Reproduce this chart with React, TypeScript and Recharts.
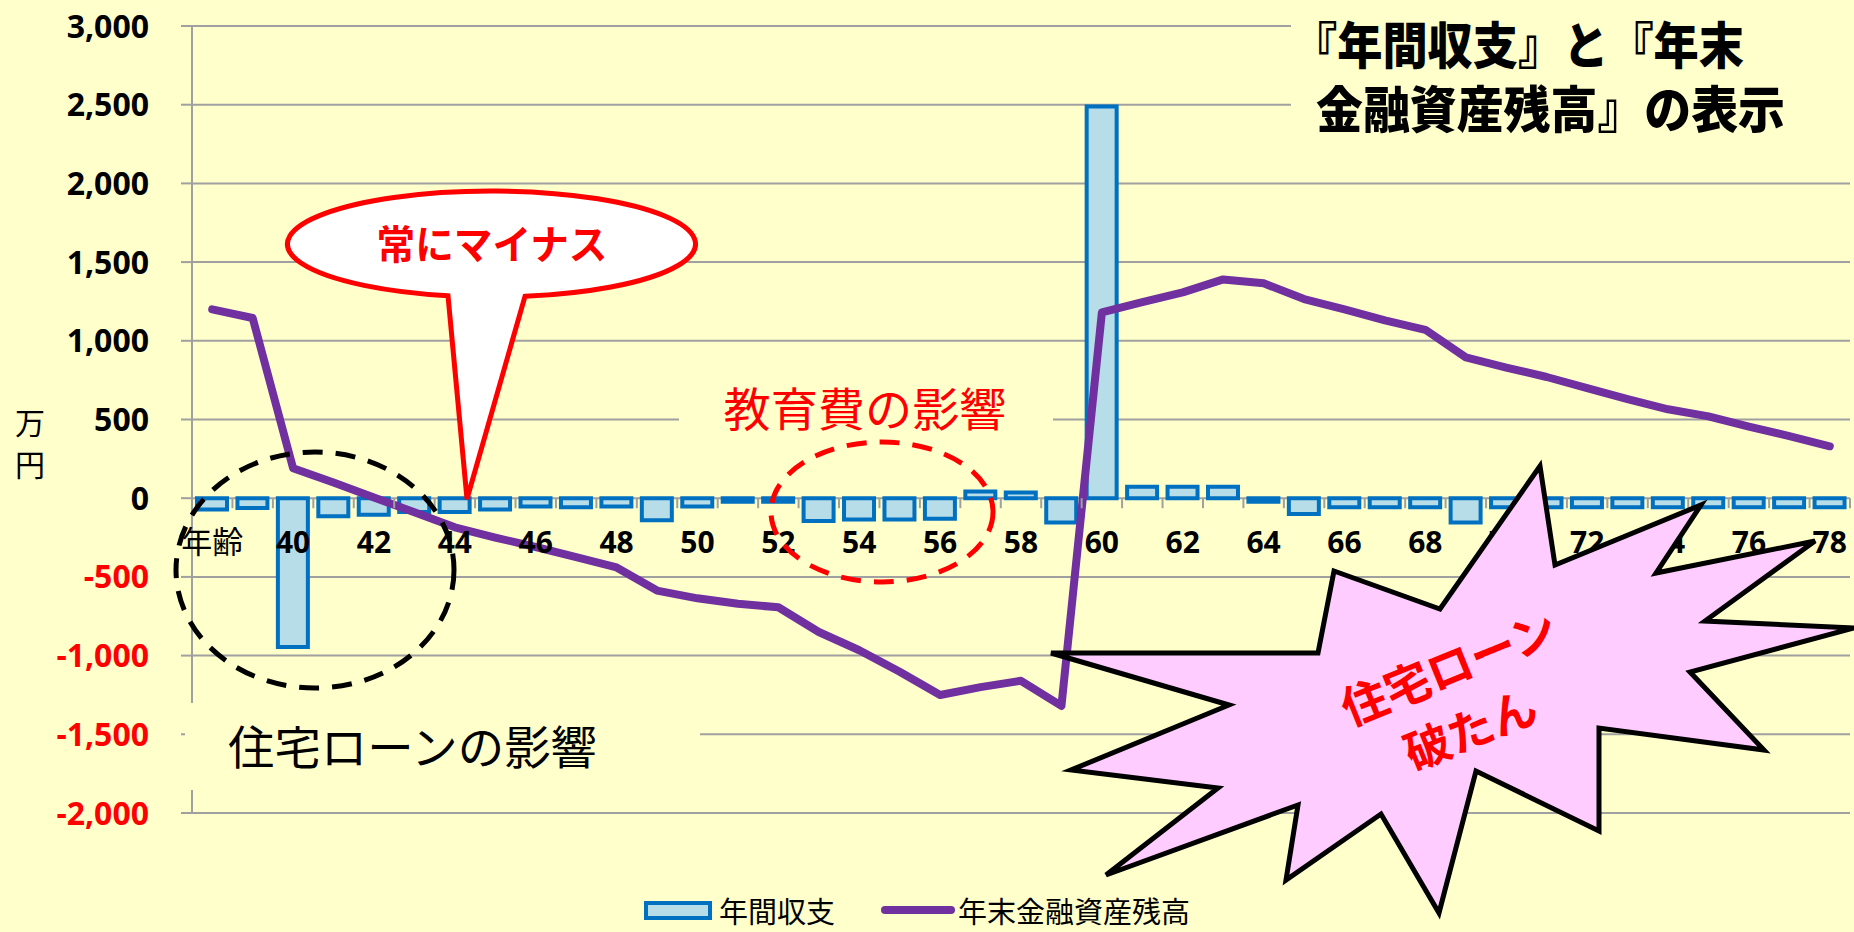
import { ComposedChart, Bar, Line, XAxis, YAxis, CartesianGrid, Legend } from 'recharts';

// age categories (first cell is the header label in the source sheet)
const ages = [
  '年齢', '39', '40', '41', '42', '43', '44', '45', '46', '47', '48',
  '49', '50', '51', '52', '53', '54', '55', '56', '57', '58',
  '59', '60', '61', '62', '63', '64', '65', '66', '67', '68',
  '69', '70', '71', '72', '73', '74', '75', '76', '77', '78',
];

// 年間収支 (万円)
const annualBalance = [
  -72, -62, -945, -115, -105, -87, -87, -72, -52, -57, -52,
  -140, -52, -22, -22, -145, -135, -135, -130, 42, 37,
  -155, 2488, 72, 72, 72, -22, -100, -58, -58, -58,
  -155, -58, -58, -58, -58, -58, -58, -58, -58, -58,
];

// 年末金融資産残高 (万円)
const yearEndAssets = [
  1200, 1145, 190, 100, 5, -90, -185, -250, -310, -375, -440,
  -587, -636, -671, -693, -850, -966, -1103, -1250, -1200, -1160,
  -1320, 1180, 1245, 1308, 1390, 1365, 1265, 1200, 1130, 1070,
  895, 830, 770, 700, 630, 565, 520, 455, 395, 330,
];

const yTicks = [-2000, -1500, -1000, -500, 0, 500, 1000, 1500, 2000, 2500, 3000];

const data = ages.map((age, i) => ({
  age,
  balance: annualBalance[i],
  assets: yearEndAssets[i],
}));

const W = 1854;
const H = 932;
const PLOT_LEFT = 192;
const PLOT_RIGHT = 1850;
const PLOT_TOP = 26;
const PLOT_BOTTOM = 813;
const Y_MIN = -2000;
const Y_MAX = 3000;
const zeroY = PLOT_TOP + (Y_MAX / (Y_MAX - Y_MIN)) * (PLOT_BOTTOM - PLOT_TOP);
const band = (PLOT_RIGHT - PLOT_LEFT) / ages.length;

const JP = "'Noto Sans CJK JP', sans-serif";
const NUM = "'Open Sans', sans-serif";
const GRID = '#A0A0A0';
const BG = '#FFFFCC';

const YTick = (props: any) => {
  const { x, y, payload } = props;
  const v = payload.value as number;
  return (
    <text x={x} y={y} dy="0.36em" textAnchor="end" fontFamily={NUM} fontWeight={700} fontSize={32}
      fill={v < 0 ? '#FF0000' : '#000000'}>
      {v.toLocaleString('en-US')}
    </text>
  );
};

const XTick = (props: any) => {
  const { x, index, payload } = props;
  const isHeader = payload.value === '年齢';
  return (
    <g>
      <line x1={x - band / 2} x2={x - band / 2} y1={zeroY} y2={zeroY + 10} stroke={GRID} strokeWidth={2} />
      {index === ages.length - 1 && (
        <line x1={x + band / 2} x2={x + band / 2} y1={zeroY} y2={zeroY + 10} stroke={GRID} strokeWidth={2} />
      )}
      {index % 2 === 0 && (
        <text x={x} y={zeroY + 44} dy="0.36em" textAnchor="middle"
          fontFamily={isHeader ? JP : NUM} fontWeight={isHeader ? 400 : 700} fontSize={isHeader ? 31 : 30} fill="#000">
          {payload.value}
        </text>
      )}
    </g>
  );
};

const LegendContent = (props: any) => {
  const items = [...(props.payload || [])].sort((a: any, b: any) => (a.type === 'rect' ? -1 : 0) - (b.type === 'rect' ? -1 : 0));
  return (
    <div style={{ display: 'flex', alignItems: 'center', fontFamily: JP, fontSize: 29, color: '#000', height: 32 }}>
      {items.map((it: any, i: number) => (
        <div key={i} style={{ display: 'flex', alignItems: 'center', marginRight: 46, height: 32 }}>
          {it.type === 'rect' ? (
            <span style={{ display: 'inline-block', width: 60, height: 11, border: '4px solid #0070C0', background: '#B7DDE8', marginRight: 7 }} />
          ) : (
            <span style={{ display: 'inline-block', width: 74, height: 8, borderRadius: 4, background: '#7030A0', marginRight: 3 }} />
          )}
          <span style={{ display: 'inline-block', whiteSpace: 'nowrap', height: 32, lineHeight: '32px' }}>{it.value}</span>
        </div>
      ))}
    </div>
  );
};

const starburst = [
  [1051, 653], [1318, 653], [1334, 571], [1440, 609], [1540, 466], [1555, 565],
  [1701, 505], [1656, 573], [1815, 541], [1705, 621], [1854, 628], [1690, 672],
  [1764, 750], [1599, 728], [1599, 831], [1476, 771], [1439, 913], [1381, 814],
  [1286, 880], [1298, 805], [1106, 875], [1218, 788], [1071, 770], [1229, 705],
];

const Overlay = () => (
  <svg width={W} height={H} style={{ position: 'absolute', left: 0, top: 0, pointerEvents: 'none' }}>
    {/* text-box backgrounds */}
    <rect x={1291} y={0} width={W - 1291} height={150} fill={BG} />
    <rect x={679} y={378} width={374} height={62} fill={BG} />
    <rect x={185} y={703} width={515} height={87} fill={BG} />

    {/* unit label */}
    <text x={30} y={434} textAnchor="middle" fontFamily={JP} fontSize={30} fill="#000">万</text>
    <text x={30} y={476} textAnchor="middle" fontFamily={JP} fontSize={30} fill="#000">円</text>

    {/* title */}
    <text fontFamily={JP} fontWeight={900} fontSize={50} fill="#000">
      <tspan x={1292} y={64} textLength={452} lengthAdjust="spacingAndGlyphs">『年間収支』と『年末</tspan>
      <tspan x={1316} y={128} textLength={469} lengthAdjust="spacingAndGlyphs">金融資産残高』の表示</tspan>
    </text>

    {/* speech bubble */}
    <path d="M 448 295.8 A 204 53 0 1 1 525 296.3 L 467 499 Z" fill="#FFFFFF" stroke="#FF0000" strokeWidth={5} strokeLinejoin="miter" />
    <text x={492} y={259} textAnchor="middle" fontFamily={JP} fontWeight={700} fontSize={40} fill="#FF0000"
      textLength={231} lengthAdjust="spacingAndGlyphs">常にマイナス</text>

    {/* education */}
    <text x={865} y={426} textAnchor="middle" fontFamily={JP} fontSize={46} fill="#FF0000"
      textLength={283} lengthAdjust="spacingAndGlyphs">教育費の影響</text>
    <ellipse cx={882} cy={512} rx={111} ry={70} fill="none" stroke="#FF0000" strokeWidth={5} strokeDasharray="20 13" />

    {/* housing loan */}
    <ellipse cx={315} cy={570} rx={139} ry={118} fill="none" stroke="#000000" strokeWidth={5} strokeDasharray="20 13" />
    <text x={228} y={764} fontFamily={JP} fontSize={46} fill="#000"
      textLength={369} lengthAdjust="spacingAndGlyphs">住宅ローンの影響</text>

    {/* starburst */}
    <polygon points={starburst.map((p) => p.join(',')).join(' ')} fill="#FFCCFF" stroke="#000000" strokeWidth={5} strokeLinejoin="miter" />
    <g transform="translate(1458 696) rotate(-22)">
      <text x={2} y={-32} dominantBaseline="central" textAnchor="middle" fontFamily={JP} fontWeight={700} fontSize={46} fill="#FF0000">住宅ローン</text>
      <text x={-1} y={33} dominantBaseline="central" textAnchor="middle" fontFamily={JP} fontWeight={700} fontSize={46} fill="#FF0000">破たん</text>
    </g>
  </svg>
);

export default function App() {
  return (
    <div style={{ position: 'relative', width: W, height: H, background: BG, overflow: 'hidden' }}>
      <style>{'body{margin:0}'}</style>
      <ComposedChart width={W} height={H} data={data}
        margin={{ top: PLOT_TOP, right: W - PLOT_RIGHT, bottom: H - PLOT_BOTTOM - 30, left: 0 }}>
        <CartesianGrid vertical={false} stroke={GRID} strokeWidth={2} />
        <XAxis dataKey="age" interval={0} axisLine={false} tickLine={false} height={30} tick={<XTick />} />
        <YAxis type="number" domain={[Y_MIN, Y_MAX]} ticks={yTicks} interval={0} width={PLOT_LEFT}
          axisLine={{ stroke: GRID, strokeWidth: 2 }} tickLine={{ stroke: GRID, strokeWidth: 2 }}
          tickSize={11} tickMargin={32} tick={<YTick />} />
        <Legend layout="horizontal" verticalAlign="middle" align="center" content={<LegendContent />}
          wrapperStyle={{ left: 644, top: 894, width: 900, height: 32 }} />
        <Bar dataKey="balance" name="年間収支" fill="#B7DDE8" stroke="#0070C0" strokeWidth={4}
          barSize={30} legendType="rect" isAnimationActive={false} />
        <Line dataKey="assets" name="年末金融資産残高" type="linear" stroke="#7030A0" strokeWidth={8}
          strokeLinecap="round" strokeLinejoin="round" dot={false} activeDot={false} legendType="line" isAnimationActive={false} />
      </ComposedChart>
      <Overlay />
    </div>
  );
}
